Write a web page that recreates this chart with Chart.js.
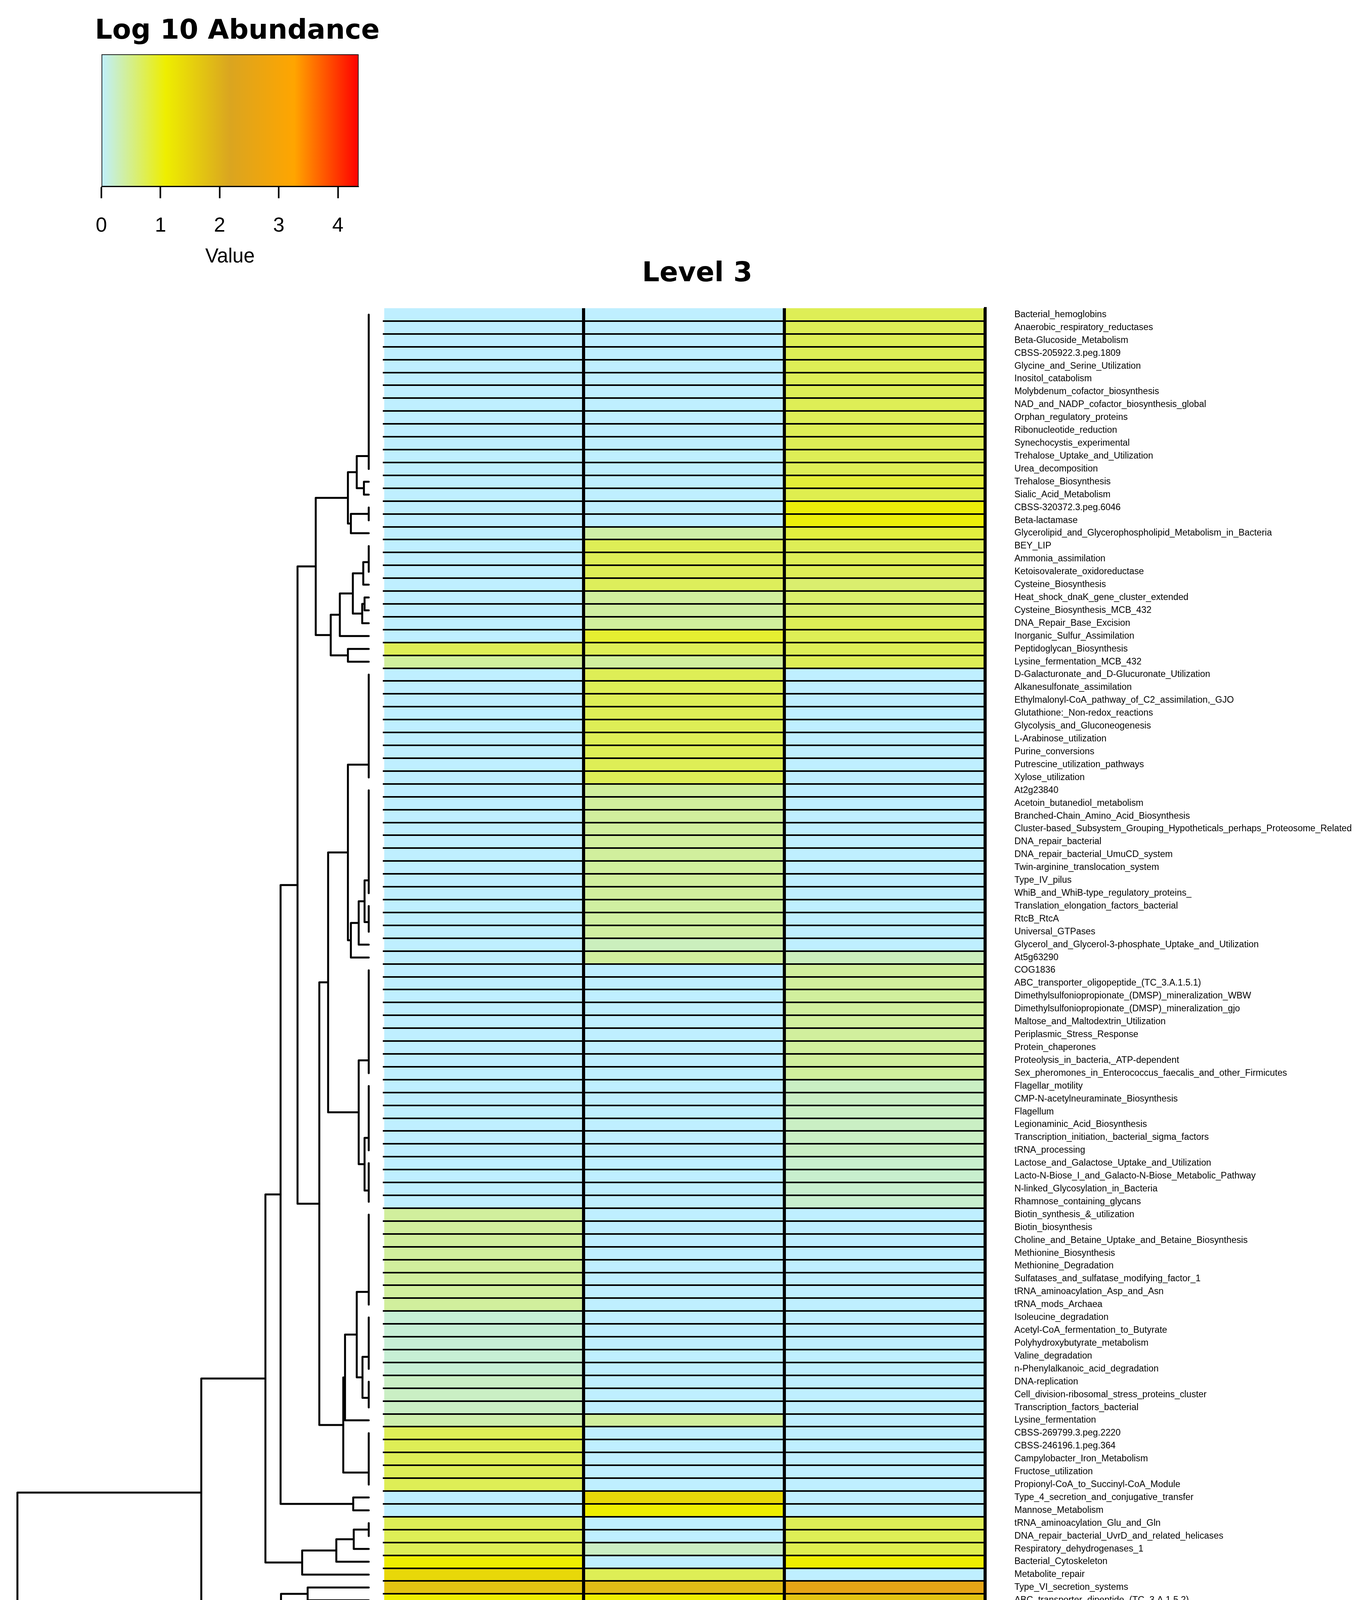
<!DOCTYPE html>
<html><head><meta charset="utf-8">
<script src="https://cdn.jsdelivr.net/npm/chart.js@4/dist/chart.umd.min.js"></script>
<style>
html,body{margin:0;padding:0;background:#fff;}
body{width:3492px;height:4479px;position:relative;overflow:hidden;}
#wrap{position:absolute;left:0;top:0;width:3492px;height:4479px;}
canvas{position:absolute;}
</style></head><body><div id="wrap">
<canvas id="dendro" width="980" height="4479" style="left:0;top:0;width:980px;height:4479px"></canvas>
<canvas id="heat" width="3414" height="4479" style="left:78px;top:0;width:3414px;height:4479px"></canvas>
<canvas id="key" width="1300" height="720" style="left:0;top:0;width:1300px;height:720px"></canvas>
</div>
<script>
// ---------------- data ----------------
const rowLabels = [
"Bacterial_hemoglobins","Anaerobic_respiratory_reductases","Beta-Glucoside_Metabolism","CBSS-205922.3.peg.1809",
"Glycine_and_Serine_Utilization","Inositol_catabolism","Molybdenum_cofactor_biosynthesis","NAD_and_NADP_cofactor_biosynthesis_global",
"Orphan_regulatory_proteins","Ribonucleotide_reduction","Synechocystis_experimental","Trehalose_Uptake_and_Utilization",
"Urea_decomposition","Trehalose_Biosynthesis","Sialic_Acid_Metabolism","CBSS-320372.3.peg.6046","Beta-lactamase",
"Glycerolipid_and_Glycerophospholipid_Metabolism_in_Bacteria","BEY_LIP","Ammonia_assimilation","Ketoisovalerate_oxidoreductase",
"Cysteine_Biosynthesis","Heat_shock_dnaK_gene_cluster_extended","Cysteine_Biosynthesis_MCB_432","DNA_Repair_Base_Excision",
"Inorganic_Sulfur_Assimilation","Peptidoglycan_Biosynthesis","Lysine_fermentation_MCB_432",
"D-Galacturonate_and_D-Glucuronate_Utilization","Alkanesulfonate_assimilation","Ethylmalonyl-CoA_pathway_of_C2_assimilation,_GJO",
"Glutathione:_Non-redox_reactions","Glycolysis_and_Gluconeogenesis","L-Arabinose_utilization","Purine_conversions",
"Putrescine_utilization_pathways","Xylose_utilization","At2g23840","Acetoin_butanediol_metabolism",
"Branched-Chain_Amino_Acid_Biosynthesis","Cluster-based_Subsystem_Grouping_Hypotheticals_perhaps_Proteosome_Related",
"DNA_repair_bacterial","DNA_repair_bacterial_UmuCD_system","Twin-arginine_translocation_system","Type_IV_pilus",
"WhiB_and_WhiB-type_regulatory_proteins_","Translation_elongation_factors_bacterial","RtcB_RtcA","Universal_GTPases",
"Glycerol_and_Glycerol-3-phosphate_Uptake_and_Utilization","At5g63290","COG1836","ABC_transporter_oligopeptide_(TC_3.A.1.5.1)",
"Dimethylsulfoniopropionate_(DMSP)_mineralization_WBW","Dimethylsulfoniopropionate_(DMSP)_mineralization_gjo",
"Maltose_and_Maltodextrin_Utilization","Periplasmic_Stress_Response","Protein_chaperones","Proteolysis_in_bacteria,_ATP-dependent",
"Sex_pheromones_in_Enterococcus_faecalis_and_other_Firmicutes","Flagellar_motility","CMP-N-acetylneuraminate_Biosynthesis",
"Flagellum","Legionaminic_Acid_Biosynthesis","Transcription_initiation,_bacterial_sigma_factors","tRNA_processing",
"Lactose_and_Galactose_Uptake_and_Utilization","Lacto-N-Biose_I_and_Galacto-N-Biose_Metabolic_Pathway",
"N-linked_Glycosylation_in_Bacteria","Rhamnose_containing_glycans","Biotin_synthesis_&_utilization","Biotin_biosynthesis",
"Choline_and_Betaine_Uptake_and_Betaine_Biosynthesis","Methionine_Biosynthesis","Methionine_Degradation",
"Sulfatases_and_sulfatase_modifying_factor_1","tRNA_aminoacylation_Asp_and_Asn","tRNA_mods_Archaea","Isoleucine_degradation",
"Acetyl-CoA_fermentation_to_Butyrate","Polyhydroxybutyrate_metabolism","Valine_degradation","n-Phenylalkanoic_acid_degradation",
"DNA-replication","Cell_division-ribosomal_stress_proteins_cluster","Transcription_factors_bacterial","Lysine_fermentation",
"CBSS-269799.3.peg.2220","CBSS-246196.1.peg.364","Campylobacter_Iron_Metabolism","Fructose_utilization",
"Propionyl-CoA_to_Succinyl-CoA_Module","Type_4_secretion_and_conjugative_transfer","Mannose_Metabolism",
"tRNA_aminoacylation_Glu_and_Gln","DNA_repair_bacterial_UvrD_and_related_helicases","Respiratory_dehydrogenases_1",
"Bacterial_Cytoskeleton","Metabolite_repair","Type_VI_secretion_systems","ABC_transporter_dipeptide_(TC_3.A.1.5.2)",
"Multidrug_Resistance_Tripartite_Systems_Found_in_Gram_Negative_Bacteria","Polyamine_Metabolism","Photosystem_II"
];
const sampleLabels = ["A1", "A2", "A3"];

// log10 abundance, one value per row
const A1 = [
 0,0,0,0,0,0,0,0,0,0,0,0,0,
 0,0,0,0,0,0,0,0,0,0,0,0,0,
 0.72,0.42,
 0,0,0,0,0,0,0,0,0,0,
 0,0,0,0,0,0,0,0,0,0,
 0,0,0,0,0,0,0,0,0,0,
 0,0,0,0,0,0,0,0,0,0,
 0,0,
 0.42,0.42,0.42,0.42,0.42,0.42,0.42,0.42,
 0.18,0.18,0.18,0.18,0.18,
 0.25,0.25,0.25,
 0.35,
 0.72,0.72,0.72,0.72,0.72,
 0,0,
 0.72,0.72,0.72,
 1.09,1.41,1.71,1.09,0.72,0,4.19
];
const A2 = [
 0,0,0,0,0,0,0,0,0,0,0,0,0,0,0,0,0,
 0.38,
 0.72,0.72,0.72,
 0.70,0.42,0.40,0.42,0.88,0.72,0.42,
 0.72,0.72,0.72,0.72,0.72,0.72,0.72,0.72,0.72,
 0.42,0.42,0.42,0.42,0.42,0.42,0.42,0.42,0.42,
 0.40,0.40,0.40,
 0.28,0.42,
 0,0,0,0,0,0,0,0,0,0,0,0,0,0,0,0,0,0,0,0,0,0,0,0,0,0,0,0,0,0,0,0,0,0,0,
 0.42,
 0,0,0,0,0,
 1.41,1.09,0,0,0.25,0,0.72,1.83,1.09,0.72,1.09,4.35
];
const A3 = [
 0.72,0.72,0.72,0.72,0.72,0.72,0.72,0.72,0.72,0.72,0.72,0.72,0.72,
 0.85,0.75,1.05,1.05,0.82,
 0.72,0.72,0.72,
 0.62,0.63,0.60,0.72,0.72,0.72,0.72,
 0,0,0,0,0,0,0,0,0,0,0,0,0,0,0,0,0,0,0,0,0,0,
 0.28,
 0.42,0.42,0.42,0.42,0.42,0.42,0.42,0.42,0.42,
 0.25,0.25,0.25,0.25,0.25,0.25,
 0.21,0.21,0.21,0.21,
 0,0,0,0,0,0,0,0,0,0,0,0,0,0,0,0,0,0,0,0,0,0,0,0,
 0.72,0.72,0.75,1.09,0,2.52,1.71,2.18,2.32,4.01
];
const sampleValues = [A1, A2, A3];

// colour key
const keyTicks = [0, 1, 2, 3, 4];
const keyMax = 4.35;
const rampStops = [0, 1.0875, 2.175, 3.2625, 4.35];
const rampColors = ["#BFEFFF", "#EEEE00", "#DAA520", "#FFA500", "#FF0000"];

// row dendrogram: [height, left, right]; leaves are row indices
function run(a, b) { let node = a; for (let i = a + 1; i <= b; i++) node = [0, node, i]; return node; }
const dendroTree =
[8.994,
  [4.287,
    [2.645,
      [2.257,
        [1.823,
          [1.357,
            [0.533, [0.307, run(0,12), [0.123, 13, 14]], [0.457, run(15,16), 17]],
            [0.973, [0.74, [0.407, [0.14, run(18,20), 21], [0.167, [0.107, 22, 23], 24]], 25], [0.533, 26, 27]]
          ],
          [1.265,
            [1.04,
              [0.533, run(28,36), [0.457, [0.257, [0.107, run(37,45), run(46,48)], 49], 50]],
              [0.257, run(51,59), [0.107, run(60,65), run(66,69)]]
            ],
            [0.652, [0.607, [0.307, run(70,77), [0.16, run(78,82), run(83,85)]], 86], run(87,91)]
          ]
        ],
        [0.397, 92, 93]
      ],
      [1.704, [0.83, [0.384, run(94,95), 96], 97], 98]
    ],
    [2.246, [1.564, 99, 100], [1.034, 101, 102]]
  ],
  103
];

// ---------------- helpers ----------------
function hexToRgb(h) { return [1, 3, 5].map(i => parseInt(h.slice(i, i + 2), 16)); }
const rampRgb = rampColors.map(hexToRgb);
function colorFor(v) {
  let i = 0;
  while (i < rampStops.length - 2 && v > rampStops[i + 1]) i++;
  const t = Math.max(0, Math.min(1, (v - rampStops[i]) / (rampStops[i + 1] - rampStops[i])));
  const rgb = rampRgb[i].map((a, k) => Math.round(a + (rampRgb[i + 1][k] - a) * t));
  return "rgb(" + rgb.join(",") + ")";
}
function layoutTree(node, segs) {
  if (typeof node === "number") return { h: 0, y: node };
  const L = layoutTree(node[1], segs), R = layoutTree(node[2], segs);
  const h = node[0];
  segs.push({ x: L.h, y: L.y }, { x: h, y: L.y }, { x: h, y: R.y }, { x: R.h, y: R.y }, { x: NaN, y: NaN });
  return { h: h, y: (L.y + R.y) / 2 };
}

Chart.defaults.font.family = "'Liberation Sans', Arial, Helvetica, sans-serif";
Chart.defaults.color = "#000";

// ---------------- dendrogram ----------------
const dendroSegs = [];
layoutTree(dendroTree, dendroSegs);
new Chart(document.getElementById("dendro"), {
  type: "scatter",
  data: { datasets: [{ data: dendroSegs, showLine: true, spanGaps: false, borderColor: "#000", borderWidth: 5,
    pointRadius: 0, pointHoverRadius: 0, clip: false, borderCapStyle: "round", borderJoinStyle: "round", tension: 0 }] },
  options: {
    responsive: false, animation: false, devicePixelRatio: 1,
    layout: { padding: { left: 44.6, right: 36, top: 789, bottom: 267 } },
    plugins: { legend: { display: false }, tooltip: { enabled: false } },
    scales: {
      x: { type: "linear", min: 0, max: dendroTree[0], reverse: true, display: false },
      y: { type: "linear", min: -0.5, max: rowLabels.length - 0.5, reverse: true, display: false }
    }
  }
});

// ---------------- heatmap ----------------
new Chart(document.getElementById("heat"), {
  type: "bar",
  data: {
    labels: rowLabels,
    datasets: sampleLabels.map((s, c) => ({
      label: s,
      data: rowLabels.map(() => [c, c + 1]),
      backgroundColor: sampleValues[c].map(colorFor),
      borderWidth: 0, barPercentage: 1, categoryPercentage: 1, grouped: false,
      xAxisID: "x", yAxisID: "y"
    }))
  },
  options: {
    indexAxis: "y", responsive: false, animation: false, devicePixelRatio: 1,
    layout: { padding: 0 },
    plugins: {
      legend: { display: false }, tooltip: { enabled: false },
      title: { display: true, text: "Level 3", color: "#000",
        font: { family: "'DejaVu Sans', Verdana, sans-serif", weight: "bold", size: 70 },
        padding: { top: 660, bottom: 45 } }
    },
    scales: {
      y: { type: "category", position: "right", offset: true,
        afterFit: s => { s.width = 970; },
        grid: { offset: true, drawTicks: false, lineWidth: 4, z: 1,
          color: ctx => ctx.index === 0 ? "rgba(0,0,0,0)" : "#000" },
        border: { display: true, color: "#000", width: 7, z: 2 },
        ticks: { color: "#000", font: { size: 23.3 }, padding: 75, autoSkip: false } },
      yPad: { type: "linear", position: "left", afterFit: s => { s.width = 902; },
        ticks: { display: false }, grid: { display: false }, border: { display: false } },
      x: { type: "linear", position: "bottom", min: 0, max: 3,
        afterFit: s => { s.height = 0; },
        ticks: { display: false, stepSize: 1 },
        grid: { drawTicks: false, lineWidth: 8, z: 2,
          color: ctx => (ctx.tick && ctx.tick.value > 0) ? "#000" : "rgba(0,0,0,0)" },
        border: { display: false } },
      x2: { type: "category", position: "bottom", labels: sampleLabels, offset: true,
        afterFit: s => { s.height = 267; },
        grid: { display: false }, border: { display: false },
        ticks: { color: "#000", font: { size: 130 }, minRotation: 90, maxRotation: 90,
          padding: 70, labelOffset: -45, autoSkip: false } }
    }
  }
});

// ---------------- colour key ----------------
new Chart(document.getElementById("key"), {
  type: "bar",
  data: {
    labels: [""],
    datasets: [{
      data: [[0, keyMax]],
      backgroundColor: ctx => {
        const chart = ctx.chart;
        if (!chart.chartArea) return rampColors[0];
        const xs = chart.scales.x;
        const g = chart.ctx.createLinearGradient(xs.getPixelForValue(0), 0, xs.getPixelForValue(keyMax), 0);
        rampStops.forEach((v, i) => g.addColorStop(v / keyMax, rampColors[i]));
        return g;
      },
      borderColor: "#000", borderWidth: 2, borderSkipped: false,
      barPercentage: 1, categoryPercentage: 1
    }]
  },
  options: {
    indexAxis: "y", responsive: false, animation: false, devicePixelRatio: 1,
    layout: { padding: { left: 243, right: 0, top: 0, bottom: 0 } },
    plugins: {
      legend: { display: false }, tooltip: { enabled: false },
      title: { display: true, text: "Log 10 Abundance", align: "start", color: "#000",
        font: { family: "'DejaVu Sans', Verdana, sans-serif", weight: "bold", size: 70 },
        padding: { top: 39, bottom: 16 } }
    },
    scales: {
      x: { type: "linear", min: 0, max: keyMax,
        afterBuildTicks: s => { s.ticks = keyTicks.map(v => ({ value: v })); },
        afterFit: s => { s.height = 242.5; },
        grid: { drawOnChartArea: false, drawTicks: true, tickLength: 30, tickWidth: 4, tickColor: "#000" },
        border: { display: true, color: "#000", width: 2 },
        ticks: { color: "#000", font: { size: 52 }, padding: 40, autoSkip: false, maxRotation: 0 },
        title: { display: true, text: "Value", color: "#000", font: { size: 51 }, padding: { top: 0, bottom: 31 } } },
      y: { type: "category", afterFit: s => { s.width = 16.5; },
        ticks: { display: false }, grid: { display: false }, border: { display: false } },
      yRight: { type: "linear", position: "right", afterFit: s => { s.width = 382; },
        ticks: { display: false }, grid: { display: false }, border: { display: false } }
    }
  }
});
</script>
</body></html>
